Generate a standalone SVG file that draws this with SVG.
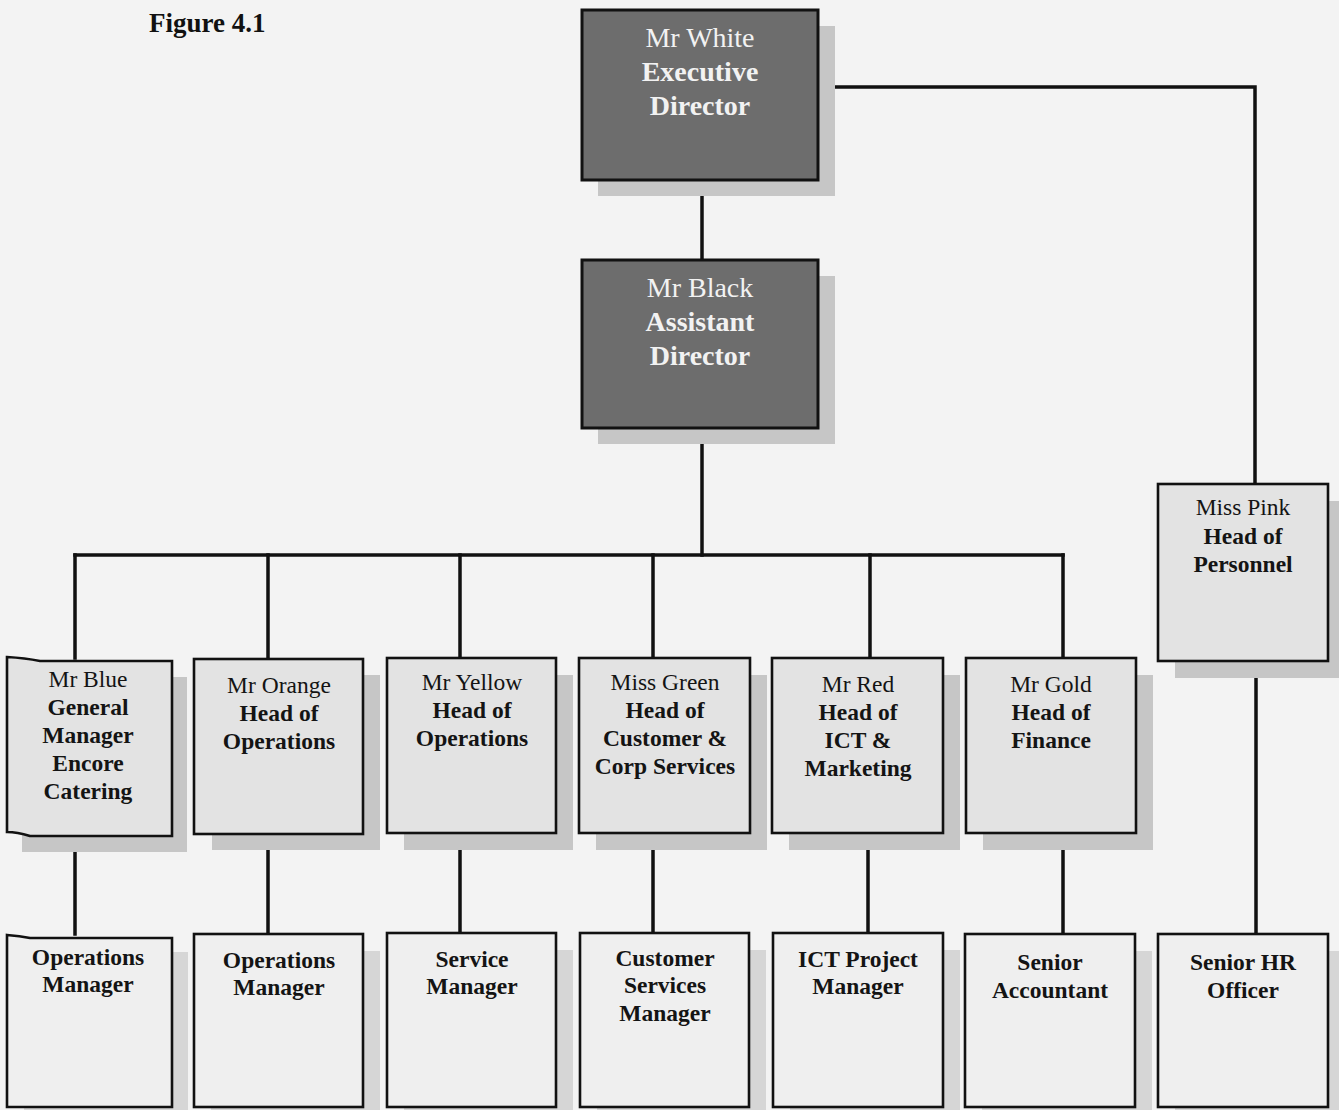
<svg xmlns="http://www.w3.org/2000/svg" width="1339" height="1110" viewBox="0 0 1339 1110">
  <style>
    text { font-family: "Liberation Serif", "Times New Roman", serif; text-anchor: middle; }
    .title { font-size: 27px; font-weight: bold; text-anchor: start; fill: #111; }
    .dk { fill: #6d6d6d; stroke: #111; stroke-width: 3; }
    .lt { fill: #e3e3e3; stroke: #111; stroke-width: 2.6; }
    .low { fill: #efefef; stroke: #111; stroke-width: 2.6; }
    .shadow { fill: #c6c6c6; }
    .shadow2 { fill: #d6d6d6; }
    .wname { font-size: 28px; fill: #f2f2f2; }
    .wrole { font-size: 28px; font-weight: bold; fill: #f2f2f2; }
    .name { font-size: 23.5px; fill: #141414; }
    .role { font-size: 23.5px; font-weight: bold; fill: #141414; }
    .conn { stroke: #111; stroke-width: 3.5; fill: none; stroke-linecap: square; }
  </style>

  <!-- page -->
  <rect x="0" y="0" width="1339" height="1110" fill="#f3f3f3"/>

  <text class="title" x="149" y="32">Figure 4.1</text>

  <!-- connectors -->
  <g id="connectors">
    <path class="conn" d="M818 87 H1255 V484"/>
    <path class="conn" d="M702 180 V260"/>
    <path class="conn" d="M702 428 V555"/>
    <path class="conn" d="M75 555 H1063"/>
    <path class="conn" d="M75 555 V658 M268 555 V658 M460 555 V658 M653 555 V658 M870 555 V658 M1063 555 V658"/>
    <path class="conn" d="M75 833 V934 M268 833 V934 M460 833 V934 M653 833 V934 M868 833 V934 M1063 833 V934 M1256 661 V934"/>
  </g>

  <!-- directors -->
  <g id="mr-white">
    <rect class="shadow" x="598" y="26" width="237" height="170"/>
    <rect class="dk" x="582" y="10" width="236" height="170"/>
    <text class="wname" x="700" y="47">Mr White</text>
    <text class="wrole" x="700" y="81">Executive</text>
    <text class="wrole" x="700" y="115">Director</text>
  </g>

  <g id="mr-black">
    <rect class="shadow" x="598" y="276" width="237" height="168"/>
    <rect class="dk" x="582" y="260" width="236" height="168"/>
    <text class="wname" x="700" y="297">Mr Black</text>
    <text class="wrole" x="700" y="331">Assistant</text>
    <text class="wrole" x="700" y="365">Director</text>
  </g>

  <!-- heads -->
  <g id="mr-blue">
    <rect class="shadow" x="22" y="677" width="165" height="175"/>
    <path class="lt" d="M7 657 Q25 658 40 661 H172 V836 H30 Q17 832 7 832 Z"/>
    <text class="name" x="88" y="687">Mr Blue</text>
    <text class="role" x="88" y="715">General</text>
    <text class="role" x="88" y="743">Manager</text>
    <text class="role" x="88" y="771">Encore</text>
    <text class="role" x="88" y="799">Catering</text>
  </g>

  <g id="mr-orange">
    <rect class="shadow" x="212" y="675" width="168" height="175"/>
    <rect class="lt" x="194" y="659" width="169" height="175"/>
    <text class="name" x="279" y="693">Mr Orange</text>
    <text class="role" x="279" y="721">Head of</text>
    <text class="role" x="279" y="749">Operations</text>
  </g>

  <g id="mr-yellow">
    <rect class="shadow" x="404" y="675" width="169" height="175"/>
    <rect class="lt" x="387" y="658" width="169" height="175"/>
    <text class="name" x="472" y="690">Mr Yellow</text>
    <text class="role" x="472" y="718">Head of</text>
    <text class="role" x="472" y="746">Operations</text>
  </g>

  <g id="miss-green">
    <rect class="shadow" x="596" y="675" width="171" height="175"/>
    <rect class="lt" x="579" y="658" width="171" height="175"/>
    <text class="name" x="665" y="690">Miss Green</text>
    <text class="role" x="665" y="718">Head of</text>
    <text class="role" x="665" y="746">Customer &amp;</text>
    <text class="role" x="665" y="774">Corp Services</text>
  </g>

  <g id="mr-red">
    <rect class="shadow" x="789" y="675" width="171" height="175"/>
    <rect class="lt" x="772" y="658" width="171" height="175"/>
    <text class="name" x="858" y="692">Mr Red</text>
    <text class="role" x="858" y="720">Head of</text>
    <text class="role" x="858" y="748">ICT &amp;</text>
    <text class="role" x="858" y="776">Marketing</text>
  </g>

  <g id="mr-gold">
    <rect class="shadow" x="983" y="675" width="170" height="175"/>
    <rect class="lt" x="966" y="658" width="170" height="175"/>
    <text class="name" x="1051" y="692">Mr Gold</text>
    <text class="role" x="1051" y="720">Head of</text>
    <text class="role" x="1051" y="748">Finance</text>
  </g>

  <g id="miss-pink">
    <rect class="shadow" x="1175" y="501" width="164" height="177"/>
    <rect class="lt" x="1158" y="484" width="170" height="177"/>
    <text class="name" x="1243" y="515">Miss Pink</text>
    <text class="role" x="1243" y="544">Head of</text>
    <text class="role" x="1243" y="572">Personnel</text>
  </g>

  <!-- managers -->
  <g id="ops-manager-1">
    <rect class="shadow2" x="24" y="952" width="164" height="158"/>
    <path class="low" d="M7 935 Q20 936 30 938 H172 V1107 H7 Z"/>
    <text class="role" x="88" y="965">Operations</text>
    <text class="role" x="88" y="992">Manager</text>
  </g>

  <g id="ops-manager-2">
    <rect class="shadow2" x="211" y="951" width="169" height="159"/>
    <rect class="low" x="194" y="934" width="169" height="173"/>
    <text class="role" x="279" y="968">Operations</text>
    <text class="role" x="279" y="995">Manager</text>
  </g>

  <g id="service-manager">
    <rect class="shadow2" x="404" y="950" width="169" height="160"/>
    <rect class="low" x="387" y="933" width="169" height="174"/>
    <text class="role" x="472" y="967">Service</text>
    <text class="role" x="472" y="994">Manager</text>
  </g>

  <g id="customer-services-manager">
    <rect class="shadow2" x="597" y="950" width="169" height="160"/>
    <rect class="low" x="580" y="933" width="169" height="174"/>
    <text class="role" x="665" y="966">Customer</text>
    <text class="role" x="665" y="993">Services</text>
    <text class="role" x="665" y="1021">Manager</text>
  </g>

  <g id="ict-project-manager">
    <rect class="shadow2" x="790" y="950" width="170" height="160"/>
    <rect class="low" x="773" y="933" width="170" height="174"/>
    <text class="role" x="858" y="967">ICT Project</text>
    <text class="role" x="858" y="994">Manager</text>
  </g>

  <g id="senior-accountant">
    <rect class="shadow2" x="982" y="951" width="170" height="159"/>
    <rect class="low" x="965" y="934" width="170" height="173"/>
    <text class="role" x="1050" y="970">Senior</text>
    <text class="role" x="1050" y="998">Accountant</text>
  </g>

  <g id="senior-hr-officer">
    <rect class="shadow2" x="1175" y="951" width="164" height="159"/>
    <rect class="low" x="1158" y="934" width="170" height="173"/>
    <text class="role" x="1243" y="970">Senior HR</text>
    <text class="role" x="1243" y="998">Officer</text>
  </g>
</svg>
